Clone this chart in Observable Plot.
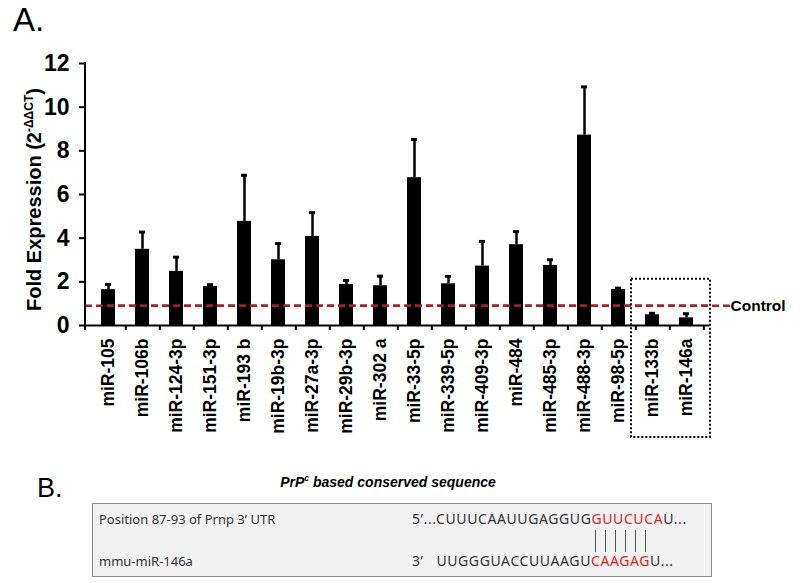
<!DOCTYPE html>
<html><head><meta charset="utf-8">
<script src="https://cdn.jsdelivr.net/npm/d3@7"></script>
<script src="https://cdn.jsdelivr.net/npm/@observablehq/plot@0.6"></script>
<style>
body{margin:0;background:#fff;}
#wrap{position:relative;width:800px;height:583px;overflow:hidden;font-family:"Liberation Sans",Arial,sans-serif;color:#000;}
#wrap svg{position:absolute;left:0;top:0;}
.panel{position:absolute;font-size:33px;line-height:1;}
#ylab{position:absolute;width:300px;left:-119px;top:185px;text-align:center;font-weight:bold;font-size:20px;transform:rotate(-90deg);white-space:nowrap;line-height:24px;}
#ylab sup{font-size:12px;vertical-align:8px;}
#head{position:absolute;left:-12px;width:800px;top:473px;text-align:center;font-weight:bold;font-style:italic;font-size:14px;}
#head sup{font-size:8.5px;}
#seqbox{position:absolute;left:92px;top:503px;width:618px;height:72px;background:#f2f2f2;border:1.5px solid #8a8a8a;font-family:"Noto Sans",sans-serif;font-size:13px;color:#333;}
.row{position:absolute;white-space:nowrap;}
.seq{font-size:14px;letter-spacing:0.6px;}
.red{color:#e0201b;}
.pair{position:absolute;top:26px;width:0;height:22px;border-left:1.2px solid #555;}
</style></head><body><div id="wrap"></div>
<script>
// ---- data ----
const categories = ["miR-105","miR-106b","miR-124-3p","miR-151-3p","miR-193 b","miR-19b-3p","miR-27a-3p","miR-29b-3p","miR-302 a","miR-33-5p","miR-339-5p","miR-409-3p","miR-484","miR-485-3p","miR-488-3p","miR-98-5p","miR-133b","miR-146a"];
const means = [1.64, 3.49, 2.48, 1.79, 4.77, 3.01, 4.08, 1.88, 1.82, 6.77, 1.91, 2.72, 3.70, 2.75, 8.72, 1.65, 0.49, 0.35];
const upperErr = [1.88, 4.28, 3.13, 1.87, 6.88, 3.75, 5.17, 2.06, 2.26, 8.52, 2.25, 3.85, 4.30, 3.01, 10.93, 1.71, 0.56, 0.54];
const controlLevel = 0.9;
const controlLabel = "Control";
const yTicks = [0, 2, 4, 6, 8, 10, 12];
const boxedCategories = ["miR-133b", "miR-146a"];
const yLabelMain = "Fold Expression (2";
const yLabelSup = "-ΔΔCT";
const seedPairs = 6;

const data = categories.map((c, i) => ({name: c, value: means[i], upper: upperErr[i]}));

const W = 800, H = 450, mL = 85, mR = 91;
const step = (W - mL - mR) / categories.length;
const red = "#b5191b";

const plot = Plot.plot({
  width: W, height: H,
  marginLeft: mL, marginRight: mR, marginTop: 63, marginBottom: 125,
  style: {fontFamily: "Liberation Sans, Arial, sans-serif", background: "transparent", color: "#000"},
  x: {domain: categories, paddingInner: 0.6, paddingOuter: 0.3, label: null},
  y: {domain: [0, 12], label: null},
  marks: [
    Plot.ruleX(data, {x: "name", y1: "value", y2: "upper", strokeWidth: 2.5}),
    Plot.tickY(data, {x: "name", y: "upper", strokeWidth: 3, insetLeft: 4, insetRight: 4}),
    Plot.barY(data, {x: "name", y: "value", fill: "#000"}),
    Plot.ruleY([controlLevel], {stroke: red, strokeWidth: 2.5, strokeDasharray: "7,4"}),
    Plot.ruleY([controlLevel], {stroke: red, strokeWidth: 2.5, strokeDasharray: "7,4", dx: 22}),
    Plot.text([controlLevel], {y: d => d, text: () => controlLabel, frameAnchor: "right", textAnchor: "start", dx: 21, fontSize: 15.5, fontWeight: "bold"}),
    Plot.ruleY([0], {strokeWidth: 2}),
    Plot.axisY({ticks: yTicks, tickSize: 6, tickPadding: 10, fontSize: 23, fontWeight: "bold", strokeWidth: 2, tickFormat: d => d}),
    Plot.axisX({tickSize: 0, tickPadding: 13, tickRotate: -90, fontSize: 17.5, fontWeight: "bold"}),
    Plot.axisX({tickSize: 5, tickFormat: () => "", strokeWidth: 2, dx: step / 2})
  ]
});

const wrap = document.getElementById("wrap");
wrap.appendChild(plot);

const sx = plot.scale("x"), sy = plot.scale("y");
const svg = d3.select(plot);
// y axis line
svg.append("line")
  .attr("x1", sx.range[0]).attr("x2", sx.range[0])
  .attr("y1", sy.apply(yTicks[yTicks.length - 1]) - 1).attr("y2", sy.apply(0) + 5)
  .attr("stroke", "#000").attr("stroke-width", 2);
// dotted box around the down-regulated miRNAs, placed with the plot's scales
const bx0 = sx.apply(boxedCategories[0]) - (sx.step - sx.bandwidth) / 2 - 4;
const bx1 = sx.apply(boxedCategories[boxedCategories.length - 1]) + sx.bandwidth + (sx.step - sx.bandwidth) / 2 + 7;
const by0 = sy.apply(2.12);
const by1 = sy.apply(0) + 112;
svg.append("rect")
  .attr("x", bx0).attr("y", by0).attr("width", bx1 - bx0).attr("height", by1 - by0)
  .attr("fill", "none").attr("stroke", "#000").attr("stroke-width", 2).attr("stroke-dasharray", "2,2");

// texts
function add(html, id, cls, style) {
  const d = document.createElement("div");
  if (id) d.id = id;
  if (cls) d.className = cls;
  if (style) d.setAttribute("style", style);
  d.innerHTML = html;
  wrap.appendChild(d);
  return d;
}
add("A.", null, "panel", "left:13px;top:3px;");
add(yLabelMain + "<sup>" + yLabelSup + "</sup>)", "ylab");
add("B.", null, "panel", "left:37px;top:475px;font-size:27px;");
add("PrP<sup>c</sup> based conserved sequence", "head");
const box = add("", "seqbox");
box.innerHTML =
  '<div class="row" style="left:6px;top:6px;">Position 87-93 of Prnp 3\u2019 UTR</div>' +
  '<div class="row seq" style="left:319px;top:5px;">5\u2019...CUUUCAAUUGAGGUG<span class="red" id="seed1">GUUCUCA</span>U...</div>' +
  '<div class="row" style="left:6px;top:48px;">mmu-miR-146a</div>' +
  '<div class="row seq" style="left:319px;top:47px;">3\u2019&nbsp;&nbsp;&nbsp;UUGGGUACCUUAAGU<span class="red" id="seed2">CAAGAG</span>U...</div>';
// base-pair ticks under the seed, spread across the paired letters
const s2 = document.getElementById("seed2").getBoundingClientRect();
const b = box.getBoundingClientRect();
const cw = s2.width / seedPairs;
for (let i = 0; i < seedPairs; i++) {
  const p = document.createElement("div");
  p.className = "pair";
  p.style.left = (s2.left - b.left - 1.5 + cw * (i + 0.5)) + "px";
  box.appendChild(p);
}
</script>
</body></html>
